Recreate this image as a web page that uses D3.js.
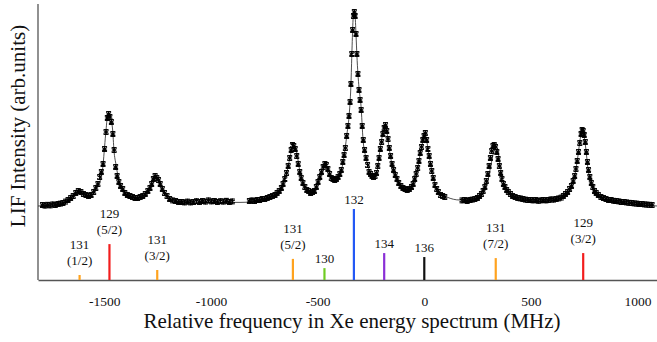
<!DOCTYPE html>
<html>
<head>
<meta charset="utf-8">
<script src="https://cdn.jsdelivr.net/npm/d3@7"></script>
<style>
  body { margin: 0; background: #fff; }
  svg text { font-family: "Liberation Serif", "Times New Roman", serif !important; }
</style>
</head>
<body>
<div id="chart"></div>
<script>
// measured LIF points [MHz, intensity]
var scanA = [[-1790,0.5],[-1778,0.2],[-1766,0.6],[-1754,0.3],[-1742,0.8],[-1730,0.5],[-1718,1.0],[-1706,1.2],[-1694,1.5],[-1682,2.2],
  [-1670,3.0],[-1658,4.0],[-1646,5.0],[-1634,6.5],[-1622,7.5],[-1610,7.0],[-1598,6.0],[-1586,5.5],[-1574,5.0],[-1562,5.5],
  [-1550,7.0],[-1540,9.0],[-1530,11.0],[-1522,14.5],[-1514,17.0],[-1506,21.0],[-1499,28.5],[-1492,37.0],[-1486,44.0],[-1480,46.0],
  [-1474,44.5],[-1467,42.0],[-1460,36.0],[-1454,28.0],[-1447,19.5],[-1440,15.0],[-1432,12.0],[-1424,10.0],[-1414,8.5],[-1404,6.5],
  [-1392,5.5],[-1380,5.0],[-1368,4.5],[-1356,4.0],[-1344,4.0],[-1332,4.5],[-1320,5.0],[-1308,6.0],[-1296,7.5],[-1286,9.0],
  [-1278,11.0],[-1270,13.5],[-1262,15.0],[-1254,14.0],[-1246,13.0],[-1238,11.0],[-1228,8.5],[-1218,6.5],[-1206,5.0],[-1194,3.5],
  [-1180,2.8],[-1166,2.5],[-1152,2.0],[-1138,2.0],[-1124,1.8],[-1110,2.2],[-1096,1.8],[-1082,2.0],[-1068,2.4],[-1054,2.0],
  [-1040,2.5],[-1026,2.2],[-1012,2.8],[-998,2.3],[-984,2.5],[-970,2.0],[-956,2.4],[-942,2.2],[-928,2.6],[-914,2.0],[-900,2.3]];

var scanB = [[-820,2.5],[-808,2.8],[-796,2.5],[-784,3.0],[-772,3.0],[-760,3.5],[-748,3.5],[-736,4.0],[-724,4.5],[-712,5.0],
  [-700,5.5],[-690,6.5],[-680,7.5],[-670,9.0],[-662,11.0],[-654,13.5],[-646,16.5],[-638,20.0],[-631,24.0],[-624,28.0],
  [-618,30.5],[-612,30.0],[-605,28.5],[-598,25.0],[-591,21.0],[-584,17.0],[-577,14.0],[-569,11.5],[-560,9.5],[-551,8.0],
  [-542,7.5],[-533,6.5],[-524,7.0],[-515,7.5],[-506,9.5],[-498,12.0],[-490,14.5],[-482,17.0],[-474,19.5],[-466,21.0],
  [-459,20.5],[-452,18.5],[-444,16.0],[-436,14.0],[-428,13.5],[-420,13.0],[-412,13.5],[-404,14.5],[-396,16.0],[-389,18.0],
  [-382,22.0],[-376,25.5],[-370,29.0],[-364,35.0],[-358,40.0],[-353,45.0],[-348,52.0],[-344,61.0],[-340,76.0],[-336,88.0],
  [-332,95.0],[-328,97.0],[-324,95.0],[-320,86.0],[-316,76.0],[-311,66.0],[-306,58.0],[-301,53.0],[-296,48.0],[-291,40.0],
  [-286,33.0],[-280,28.0],[-273,24.0],[-266,20.5],[-259,17.0],[-252,16.0],[-245,15.0],[-238,14.5],[-231,15.0],[-224,16.5],
  [-218,20.0],[-212,24.0],[-206,28.5],[-200,32.0],[-194,36.0],[-188,39.0],[-182,40.5],[-176,37.5],[-170,33.5],[-164,29.0],
  [-158,25.0],[-151,21.0],[-144,18.0],[-136,15.5],[-128,13.5],[-120,11.5],[-110,10.0],[-100,9.0],[-90,8.5],[-80,8.0],
  [-70,8.5],[-60,9.5],[-52,11.0],[-45,13.5],[-38,16.0],[-31,19.0],[-25,22.5],[-19,26.5],[-13,29.5],[-7,33.0],
  [-1,35.0],[5,36.5],[11,33.0],[17,28.5],[23,25.0],[29,21.0],[35,17.5],[42,14.0],[50,10.5],[58,8.5],
  [66,7.0],[76,5.5],[86,5.0],[96,4.5]];

var scanC = [[177,2.8],[189,3.0],[201,2.5],[213,3.0],[225,3.2],[237,3.5],[249,4.0],[259,5.0],[268,6.0],[276,7.5],
  [284,9.5],[291,12.5],[298,16.0],[304,20.0],[310,24.0],[316,27.5],[322,30.0],[328,30.5],[334,29.5],[340,27.0],
  [346,23.5],[352,20.0],[358,16.5],[364,13.5],[371,11.0],[378,9.5],[386,8.0],[394,7.0],[404,6.0],[414,5.0],
  [426,4.5],[438,4.0],[450,3.8],[462,3.5],[474,3.2],[486,3.0],[498,3.0],[510,2.8],[522,3.0],[534,2.6],
  [546,2.8],[558,3.0],[570,2.8],[582,3.0],[594,3.3],[606,3.2],[618,3.5],[630,3.8],[642,4.2],[652,5.0],
  [662,6.0],[672,7.0],[681,8.5],[690,10.0],[698,12.5],[705,15.0],[711,18.5],[717,22.5],[723,27.0],[729,31.5],
  [735,36.0],[740,38.0],[745,37.5],[750,35.5],[755,32.0],[760,27.0],[765,22.0],[770,18.0],[776,14.5],[783,11.5],
  [790,9.5],[798,7.5],[806,6.5],[816,5.5],[828,4.5],[840,4.0],[852,3.5],[864,3.0],[876,3.0],[888,2.6],
  [900,2.5],[912,2.3],[924,2.0],[936,2.0],[948,1.8],[960,1.6],[972,1.5],[984,1.3],[996,1.2],[1008,1.0],
  [1020,1.0],[1032,0.8],[1044,0.7],[1056,0.6],[1068,0.5]];

// fitted curve [MHz, intensity]
var fitCurve = [[-1811,0],[-1727,0.5],[-1670,3],[-1642,5.5],[-1619,7.5],[-1595,6.5],[-1572,5],[-1548,6.5],[-1530,10.5],
  [-1516,14],[-1506,20.5],[-1499,29.5],[-1492,38],[-1484,45.5],[-1473,44.5],[-1461,38],[-1455,28],[-1445,20.5],
  [-1437,15.5],[-1431,12],[-1412,8],[-1389,5],[-1352,4],[-1319,4],[-1286,8],[-1272,11.5],[-1258,14],[-1248,13.5],
  [-1234,10],[-1220,6.5],[-1192,3.5],[-1145,2],[-1052,1.5],[-958,1.8],[-864,1.8],[-817,2],[-770,2.5],[-709,4.5],
  [-676,6.5],[-662,10.5],[-644,17],[-630,24],[-616,30],[-601,28],[-592,23],[-583,17],[-569,11.5],[-545,8],
  [-526,7],[-503,10],[-480,17],[-466,20.5],[-451,18],[-428,13.5],[-405,13.5],[-386,19],[-372,28],[-362,36.5],
  [-353,44.5],[-344,60.5],[-339,78],[-334,93],[-329,97.5],[-325,96],[-320,85.5],[-316,75.5],[-306,59],[-297,50.5],
  [-287,33],[-273,24],[-255,17],[-240,14.5],[-222,17],[-208,28],[-194,36.5],[-184,40],[-175,36.5],[-165,29],
  [-151,20.5],[-128,13],[-100,9],[-76,8],[-53,10.5],[-34,17],[-20,25.5],[-6,32.5],[3,35.5],[13,31.5],[22,25.5],
  [31,20],[45,13],[64,7.5],[106,4.5],[167,3],[200,3],[261,4.5],[285,8],[299,13],[308,18],[322,25.5],[333,30],
  [346,27],[355,20.5],[369,13],[383,9],[402,6.5],[449,4],[542,3],[636,3.5],[669,5.5],[692,9.5],[706,15.5],
  [721,25.5],[730,33],[741,37.5],[749,35],[758,28],[767,19],[781,11.5],[796,7],[814,4.5],[856,3],[950,1.5],[1091,0]];

// isotope stick spectrum
var isoNames = ["131", "129", "131", "131", "130", "132", "134", "136", "131", "129"];
var isoSpin  = ["(1/2)", "(5/2)", "(3/2)", "(5/2)", "", "", "", "", "(7/2)", "(3/2)"];
var isoFreq  = [-1616, -1476, -1252, -616, -468, -330, -188, 0, 335, 745];
var isoAbund = [1.9, 13.6, 3.8, 8.0, 4.5, 26.9, 10.2, 8.7, 8.3, 10.2];
var isoColor = ["#ffa31f", "#f21d1d", "#ffa31f", "#ffa31f", "#6fcc22", "#2358f5", "#8a2fd6", "#111111", "#ffa31f", "#f21d1d"];

var xTicks = [-1500, -1000, -500, 0, 500, 1000];
var ERR = 1.2;

var svgWidth = 657, svgHeight = 342;
var svg = d3.select("#chart").append("svg")
  .attr("width", svgWidth)
  .attr("height", svgHeight);

var x = d3.scaleLinear().domain([-1811, 1091]).range([38, 657]);
var y = d3.scaleLinear().domain([-37, 100]).range([280, 6]);
var h = d3.scaleLinear().domain([0, 26.9]).range([0, 71]);

// axes
svg.append("line")
  .attr("x1", 38).attr("x2", 38).attr("y1", 4).attr("y2", 280)
  .attr("stroke", "#555").attr("stroke-width", 1.3);

var xAxis = svg.append("g")
  .attr("transform", "translate(0,280)")
  .call(d3.axisBottom(x).tickValues(xTicks).tickSize(0).tickPadding(16).tickFormat(function(d){ return String(d); }));
xAxis.select(".domain").attr("stroke", "#555").attr("stroke-width", 1.3);
xAxis.selectAll("text")
  .attr("font-size", "13.5px")
  .attr("fill", "#111");

svg.append("text")
  .attr("x", 352).attr("y", 328)
  .attr("text-anchor", "middle")
  .attr("font-size", "21px")
  .attr("fill", "#111")
  .text("Relative frequency in Xe energy spectrum (MHz)");

svg.append("text")
  .attr("transform", "translate(25,126) rotate(-90)")
  .attr("text-anchor", "middle")
  .attr("font-size", "21px")
  .attr("fill", "#111")
  .text("LIF Intensity (arb.units)");

// fit line
var line = d3.line()
  .x(function(d){ return x(d[0]); })
  .y(function(d){ return y(d[1]); })
  .curve(d3.curveMonotoneX);

svg.append("path")
  .datum(fitCurve)
  .attr("d", line)
  .attr("fill", "none")
  .attr("stroke", "#222")
  .attr("stroke-width", 0.8);

// data points with error bars
var points = scanA.concat(scanB, scanC);
var bars = svg.append("g").selectAll("g.pt")
  .data(points)
  .enter()
  .append("g")
  .attr("class", "pt")
  .attr("stroke", "#000")
  .attr("stroke-width", 1.1);

bars.append("line")
  .attr("x1", function(d){ return x(d[0]); })
  .attr("x2", function(d){ return x(d[0]); })
  .attr("y1", function(d){ return y(d[1] + ERR); })
  .attr("y2", function(d){ return y(d[1] - ERR); });
bars.append("line")
  .attr("x1", function(d){ return x(d[0]) - 2.5; })
  .attr("x2", function(d){ return x(d[0]) + 2.5; })
  .attr("y1", function(d){ return y(d[1] + ERR); })
  .attr("y2", function(d){ return y(d[1] + ERR); });
bars.append("line")
  .attr("x1", function(d){ return x(d[0]) - 2.5; })
  .attr("x2", function(d){ return x(d[0]) + 2.5; })
  .attr("y1", function(d){ return y(d[1] - ERR); })
  .attr("y2", function(d){ return y(d[1] - ERR); });
bars.append("path")
  .attr("transform", function(d){ return "translate(" + x(d[0]) + "," + y(d[1]) + ")"; })
  .attr("d", d3.symbol(d3.symbolAsterisk, 22))
  .attr("fill", "none");

// sticks
var sticks = isoFreq.map(function(f, i){
  return {f: f, a: isoAbund[i], name: isoNames[i], spin: isoSpin[i], color: isoColor[i]};
});

svg.append("g").selectAll("line")
  .data(sticks)
  .enter()
  .append("line")
  .attr("x1", function(d){ return x(d.f); })
  .attr("x2", function(d){ return x(d.f); })
  .attr("y1", 280)
  .attr("y2", function(d){ return 280 - h(d.a); })
  .attr("stroke", function(d){ return d.color; })
  .attr("stroke-width", 2.2);

var labels = svg.append("g").selectAll("text")
  .data(sticks)
  .enter()
  .append("text")
  .attr("text-anchor", "middle")
  .attr("font-size", "13px")
  .attr("fill", "#111");

labels.each(function(d){
  var t = d3.select(this);
  var top = 280 - h(d.a);
  if (d.spin) {
    t.append("tspan").attr("x", x(d.f)).attr("y", top - 26).text(d.name);
    t.append("tspan").attr("x", x(d.f)).attr("y", top - 10).text(d.spin);
  } else {
    t.append("tspan").attr("x", x(d.f)).attr("y", top - 5).text(d.name);
  }
});
</script>
</body>
</html>
